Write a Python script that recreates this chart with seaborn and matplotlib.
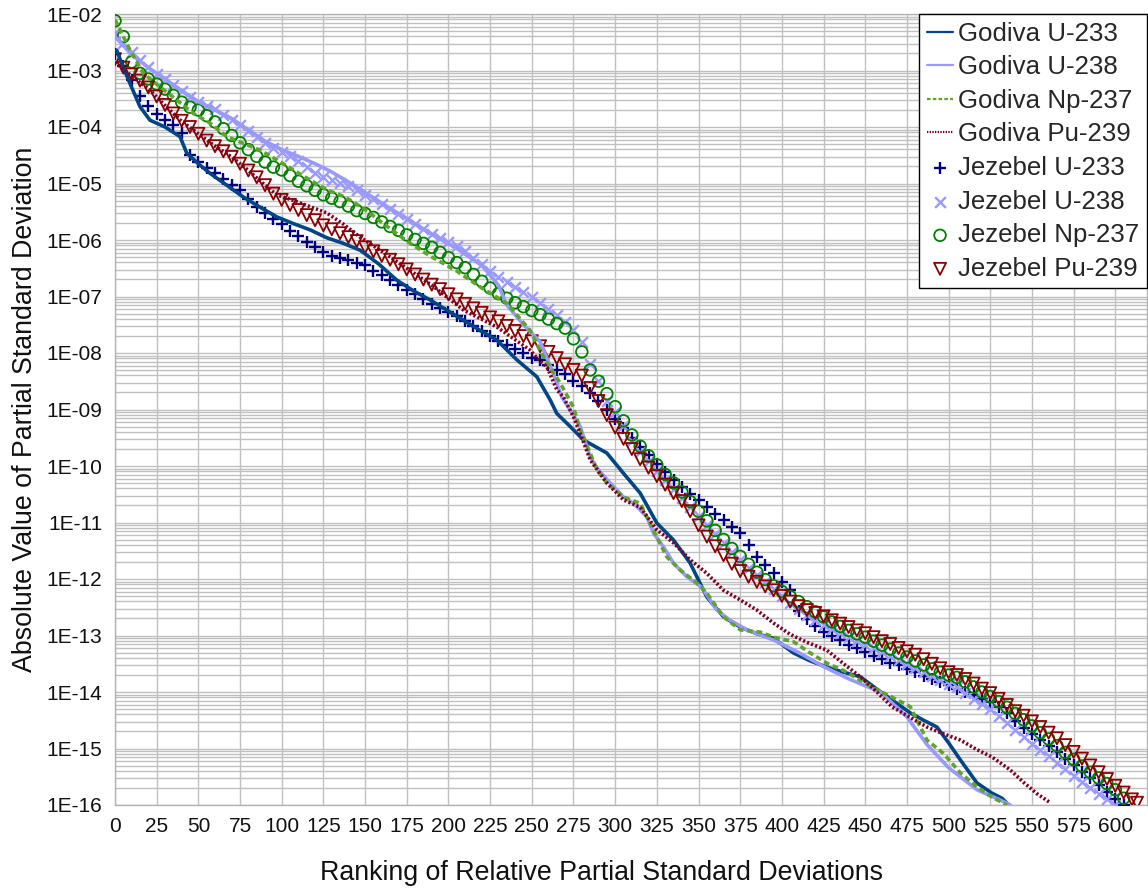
import numpy as np
import pandas as pd
import matplotlib
matplotlib.use("Agg")
import matplotlib.pyplot as plt
import seaborn as sns
from matplotlib.ticker import FixedLocator, LogLocator, FuncFormatter, NullFormatter

# ---------------- data (values as log10 exponents) ----------------
godiva_u233_rank = [1, 5, 10, 15, 21, 30, 39, 43, 50, 57, 67, 77, 87, 97, 107, 117, 127, 137, 147, 158,
                    169, 179, 189, 199, 209, 219, 229, 241, 253, 261, 265, 273, 281, 295, 305, 315, 325, 335, 345, 355,
                    365, 375, 385, 395, 407, 417, 427, 437, 447, 457, 466, 477, 485, 493, 500, 507, 517, 526, 532, 536]
godiva_u233_exp = [-2.64, -2.95, -3.30, -3.64, -3.88, -4.00, -4.17, -4.46, -4.65, -4.82,
                   -5.03, -5.24, -5.42, -5.59, -5.71, -5.82, -5.96, -6.06, -6.18, -6.42,
                   -6.71, -6.90, -7.06, -7.24, -7.42, -7.60, -7.77, -8.12, -8.42, -8.83,
                   -9.07, -9.30, -9.54, -9.77, -10.13, -10.48, -11.01, -11.31, -11.72, -12.32,
                   -12.67, -12.85, -12.97, -13.05, -13.31, -13.45, -13.56, -13.65, -13.73, -13.95,
                   -14.14, -14.37, -14.50, -14.62, -14.90, -15.20, -15.61, -15.79, -15.88, -16.00]

godiva_u238_rank = [0, 10, 20, 30, 40, 50, 60, 70, 80, 90, 100, 110, 120, 129, 137, 145,
                    160, 175, 190, 205, 220, 230, 235, 245, 255, 262, 268, 275, 279, 285, 290,
                    297, 305, 311, 319, 323, 329, 335, 343, 352, 361, 369, 379, 395, 410, 425,
                    441, 459, 470, 475, 487, 500, 517, 530, 537]
godiva_u238_exp = [-2.40, -2.72, -2.95, -3.15, -3.36, -3.55, -3.70, -3.85, -4.05, -4.25, -4.40, -4.52, -4.65,
                   -4.78, -4.92, -5.06, -5.35, -5.62, -5.90, -6.15, -6.45, -6.80, -7.15, -7.50, -7.80, -8.30,
                   -8.78, -9.10, -9.30, -9.84, -10.07, -10.30, -10.55, -10.66, -10.90, -11.19,
                   -11.43, -11.72, -11.96, -12.15, -12.55, -12.73, -12.90, -13.08, -13.30, -13.55,
                   -13.78, -14.00, -14.30, -14.44, -14.93, -15.34, -15.73, -15.90, -16.00]

godiva_np237_rank = [0, 9, 17, 27, 37, 47, 57, 67, 77, 87, 97, 107, 117, 127, 138, 149, 165, 177, 190, 205,
                     220, 235, 249, 257, 267, 275, 279, 285, 289, 295, 305, 315, 325, 331, 339, 349, 355, 365, 375, 387,
                     395, 407, 417, 427, 437, 447, 457, 466, 477, 481, 487, 497, 507, 517, 526, 535]
godiva_np237_exp = [-2.10, -2.64, -3.05, -3.29, -3.52, -3.76, -3.93, -4.17, -4.29, -4.41,
                    -4.58, -4.76, -4.94, -5.11, -5.24, -5.44, -5.80, -6.06, -6.30, -6.55,
                    -6.85, -7.12, -7.60, -8.07, -8.53, -8.96, -9.36, -9.77, -10.07, -10.30,
                    -10.55, -10.66, -11.26, -11.61, -11.84, -12.07, -12.25, -12.67, -12.90, -12.94,
                    -13.03, -13.11, -13.31, -13.49, -13.62, -13.79, -13.96, -14.09, -14.26, -14.50,
                    -14.85, -15.09, -15.43, -15.68, -15.86, -16.00]

godiva_pu239_rank = [0, 10, 20, 30, 40, 50, 60, 70, 80, 90, 97, 107, 117, 127, 137, 147, 160, 175, 190, 209,
                     229, 249, 255, 259, 265, 269, 275, 280, 285, 295, 305, 315, 325, 335, 345, 355, 365, 375, 385, 395,
                     405, 415, 427, 437, 447, 457, 466, 477, 487, 497, 507, 517, 526, 537, 545, 553, 561]
godiva_pu239_exp = [-2.85, -3.10, -3.32, -3.62, -3.90, -4.12, -4.34, -4.53, -4.77, -5.03,
                    -5.20, -5.30, -5.41, -5.52, -5.72, -5.95, -6.20, -6.50, -6.80, -7.24,
                    -7.54, -7.95, -8.15, -8.24, -8.65, -8.78, -9.13, -9.50, -9.89, -10.30,
                    -10.60, -10.73, -11.13, -11.36, -11.66, -11.90, -12.20, -12.37, -12.55, -12.78,
                    -12.98, -13.12, -13.26, -13.50, -13.73, -14.00, -14.26, -14.45, -14.62, -14.74,
                    -14.85, -15.02, -15.15, -15.38, -15.60, -15.80, -15.96]

jezebel_u233_rank = list(range(0, 606, 5))
jezebel_u233_exp = [-2.70, -2.92, -3.16, -3.45, -3.62, -3.77, -3.88, -3.97, -4.10, -4.50,
                    -4.62, -4.72, -4.82, -4.92, -5.02, -5.12, -5.27, -5.42, -5.53, -5.62,
                    -5.72, -5.84, -5.93, -6.03, -6.12, -6.21, -6.28, -6.32, -6.36, -6.40,
                    -6.45, -6.54, -6.62, -6.70, -6.79, -6.88, -6.96, -7.05, -7.13, -7.21,
                    -7.27, -7.35, -7.43, -7.52, -7.61, -7.70, -7.78, -7.86, -7.93, -8.00,
                    -8.08, -8.13, -8.22, -8.30, -8.38, -8.50, -8.58, -8.70, -8.85, -9.00,
                    -9.17, -9.33, -9.50, -9.66, -9.81, -9.96, -10.10, -10.25, -10.37, -10.49,
                    -10.61, -10.73, -10.85, -10.96, -11.08, -11.19, -11.40, -11.61, -11.75, -11.90,
                    -12.05, -12.20, -12.56, -12.70, -12.83, -12.93, -13.01, -13.08, -13.16, -13.23,
                    -13.30, -13.36, -13.42, -13.48, -13.53, -13.59, -13.65, -13.71, -13.77, -13.83,
                    -13.88, -13.94, -14.00, -14.06, -14.12, -14.18, -14.26, -14.37, -14.52, -14.63,
                    -14.74, -14.85, -14.95, -15.06, -15.18, -15.30, -15.41, -15.53, -15.65, -15.77,
                    -15.89, -16.00]

jezebel_u238_rank = list(range(0, 601, 5))
jezebel_u238_exp = [-2.34, -2.52, -2.67, -2.82, -2.94, -3.06, -3.15, -3.25, -3.36, -3.47,
                    -3.56, -3.62, -3.69, -3.78, -3.87, -3.96, -4.07, -4.18, -4.29, -4.38,
                    -4.45, -4.51, -4.60, -4.71, -4.81, -4.88, -4.94, -4.99, -5.05, -5.12,
                    -5.20, -5.28, -5.36, -5.45, -5.54, -5.63, -5.72, -5.81, -5.89, -5.96,
                    -6.04, -6.11, -6.20, -6.31, -6.43, -6.55, -6.66, -6.75, -6.84, -6.92,
                    -7.01, -7.11, -7.22, -7.33, -7.45, -7.60, -7.80, -8.20, -8.50, -8.85,
                    -9.05, -9.30, -9.55, -9.75, -9.92, -10.08, -10.25, -10.40, -10.56, -10.72,
                    -10.88, -11.04, -11.20, -11.36, -11.52, -11.66, -11.80, -11.93, -12.06, -12.18,
                    -12.30, -12.42, -12.53, -12.63, -12.72, -12.81, -12.89, -12.96, -13.03, -13.10,
                    -13.16, -13.22, -13.29, -13.36, -13.43, -13.50, -13.57, -13.64, -13.71, -13.78,
                    -13.85, -13.91, -14.01, -14.12, -14.22, -14.30, -14.42, -14.55, -14.68, -14.80,
                    -14.92, -15.03, -15.14, -15.25, -15.37, -15.49, -15.60, -15.70, -15.80, -15.90,
                    -16.00]

jezebel_np237_rank = list(range(0, 606, 5))
jezebel_np237_exp = [-2.12, -2.40, -2.85, -3.05, -3.15, -3.24, -3.33, -3.44, -3.56, -3.65,
                     -3.70, -3.80, -3.91, -4.03, -4.15, -4.28, -4.40, -4.52, -4.62, -4.71,
                     -4.76, -4.86, -4.96, -5.04, -5.12, -5.20, -5.26, -5.32, -5.40, -5.48,
                     -5.53, -5.60, -5.68, -5.76, -5.83, -5.91, -5.99, -6.06, -6.13, -6.22,
                     -6.31, -6.40, -6.49, -6.61, -6.73, -6.85, -6.95, -7.03, -7.11, -7.18,
                     -7.25, -7.32, -7.40, -7.48, -7.56, -7.75, -7.98, -8.30, -8.50, -8.72,
                     -8.95, -9.20, -9.45, -9.65, -9.82, -9.98, -10.15, -10.30, -10.46, -10.63,
                     -10.80, -10.97, -11.14, -11.30, -11.46, -11.60, -11.74, -11.88, -12.01, -12.12,
                     -12.22, -12.31, -12.40, -12.49, -12.58, -12.67, -12.76, -12.84, -12.91, -12.97,
                     -13.03, -13.10, -13.17, -13.24, -13.31, -13.38, -13.45, -13.52, -13.59, -13.65,
                     -13.70, -13.74, -13.82, -13.91, -14.00, -14.08, -14.17, -14.27, -14.38, -14.49,
                     -14.60, -14.72, -14.83, -14.95, -15.07, -15.19, -15.31, -15.42, -15.52, -15.62,
                     -15.73, -15.88]

jezebel_pu239_rank = list(range(0, 611, 5)) + [613]
jezebel_pu239_exp = [-2.80, -2.95, -3.07, -3.18, -3.30, -3.46, -3.61, -3.76, -3.89, -4.00,
                     -4.12, -4.24, -4.34, -4.43, -4.53, -4.65, -4.77, -4.89, -5.03, -5.18,
                     -5.29, -5.38, -5.47, -5.56, -5.65, -5.74, -5.81, -5.88, -5.95, -6.02,
                     -6.13, -6.20, -6.28, -6.35, -6.43, -6.52, -6.61, -6.70, -6.79, -6.87,
                     -6.96, -7.05, -7.13, -7.21, -7.29, -7.37, -7.44, -7.52, -7.61, -7.70,
                     -7.79, -7.88, -7.98, -8.09, -8.20, -8.30, -8.40, -8.62, -8.85, -9.10,
                     -9.32, -9.52, -9.70, -9.88, -10.03, -10.18, -10.33, -10.48, -10.62, -10.80,
                     -11.05, -11.25, -11.42, -11.58, -11.73, -11.86, -11.96, -12.05, -12.13, -12.20,
                     -12.30, -12.40, -12.48, -12.55, -12.60, -12.66, -12.73, -12.79, -12.85, -12.91,
                     -12.96, -13.03, -13.10, -13.15, -13.22, -13.28, -13.34, -13.42, -13.50, -13.58,
                     -13.65, -13.70, -13.77, -13.85, -13.94, -14.02, -14.12, -14.23, -14.34, -14.42,
                     -14.52, -14.62, -14.72, -14.82, -14.94, -15.06, -15.18, -15.30, -15.42, -15.54,
                     -15.66, -15.78, -15.90, -15.96]

labels = ["Godiva U-233", "Godiva U-238", "Godiva Np-237", "Godiva Pu-239",
          "Jezebel U-233", "Jezebel U-238", "Jezebel Np-237", "Jezebel Pu-239"]
y_tick_exponents = list(range(-16, -1))
x_ticks = list(range(0, 601, 25))

# ---------------- styling ----------------
sns.set_style("white")
plt.rcParams['font.family'] = ['Liberation Sans', 'DejaVu Sans']

W, H = 1148, 890
fig = plt.figure(figsize=(W / 100, H / 100), dpi=100)
ax = fig.add_axes([115 / W, 1 - 805 / H, (1147 - 115) / W, (805 - 14) / H])

grid_c = "#c0c0c0"


def vals(e):
    return 10.0 ** np.asarray(e, dtype=float)


handles = {}

# Jezebel series (markers)
jez = [
    ("Jezebel U-233", jezebel_u233_rank, jezebel_u233_exp, dict(marker="+", color="#000080", s=85, linewidth=1.7)),
    ("Jezebel U-238", jezebel_u238_rank, jezebel_u238_exp, dict(marker="x", color="#9999ff", s=60, linewidth=1.7)),
    ("Jezebel Np-237", jezebel_np237_rank, jezebel_np237_exp,
     dict(marker="o", facecolor="none", edgecolor="#008000", s=70, linewidth=1.3)),
    ("Jezebel Pu-239", jezebel_pu239_rank, jezebel_pu239_exp,
     dict(marker="v", facecolor="none", edgecolor="#8b0000", s=75, linewidth=1.3)),
]
for name, r, e, kw in jez:
    sns.scatterplot(x=r, y=vals(e), ax=ax, legend=False, zorder=3, **kw)
    handles[name] = ax.collections[-1]

# Godiva series (lines)
god = [
    ("Godiva U-233", godiva_u233_rank, godiva_u233_exp, dict(color="#004586", linewidth=2.6, linestyle="-")),
    ("Godiva U-238", godiva_u238_rank, godiva_u238_exp, dict(color="#9999ff", linewidth=2.6, linestyle="-")),
    ("Godiva Np-237", godiva_np237_rank, godiva_np237_exp,
     dict(color="#5ea52a", linewidth=2.6, linestyle=(0, (1.6, 1.0)))),
    ("Godiva Pu-239", godiva_pu239_rank, godiva_pu239_exp,
     dict(color="#7e0021", linewidth=2.6, linestyle=(0, (0.6, 0.6)))),
]
for name, r, e, kw in god:
    sns.lineplot(x=r, y=vals(e), ax=ax, legend=False, zorder=4, **kw)
    handles[name] = ax.lines[-1]

ax.set_yscale("log")
ax.set_ylim(1e-16, 1e-2)
ax.set_xlim(0, 619)

ax.yaxis.set_major_locator(FixedLocator([10.0 ** k for k in y_tick_exponents]))
ax.yaxis.set_major_formatter(FuncFormatter(lambda v, p: "1E-%02d" % int(round(-np.log10(v)))))
ax.yaxis.set_minor_locator(LogLocator(base=10, subs=np.arange(2, 10), numticks=200))
ax.yaxis.set_minor_formatter(NullFormatter())
ax.xaxis.set_major_locator(FixedLocator(x_ticks))

ax.grid(True, which="major", axis="both", color=grid_c, linewidth=1.0, zorder=0)
ax.grid(True, which="minor", axis="y", color=grid_c, linewidth=1.0, zorder=0)
ax.set_axisbelow(True)

for sp in ax.spines.values():
    sp.set_color("#b3b3b3")
    sp.set_linewidth(1.0)

ax.tick_params(axis="both", which="major", direction="out", length=5, width=1, color="#b3b3b3",
               labelsize=15, labelcolor="#111111", pad=4)
ax.tick_params(axis="y", which="minor", length=0)

ax.set_xlabel("Ranking of Relative Partial Standard Deviations", fontsize=19.3, color="#111111")
ax.xaxis.set_label_coords((601 - 115) / (1147 - 115), -(873 - 805) / (805 - 14), transform=ax.transAxes)
ax.xaxis.label.set_va("center")
ax.set_ylabel("Absolute Value of Partial Standard Deviation", fontsize=19.3, labelpad=6, color="#111111")

leg = ax.legend([handles[n] for n in labels], labels, loc="upper right", bbox_to_anchor=(1.0, 1.0),
                borderaxespad=0, frameon=True, fancybox=False, edgecolor="black", framealpha=1,
                fontsize=18.6, handlelength=1.0, handletextpad=0.2, labelspacing=0.37, borderpad=0.3,
                scatterpoints=1)
leg.get_frame().set_linewidth(1.0)
leg.set_zorder(10)
for ln in leg.get_lines():
    ln.set_linewidth(1.6)

fig.savefig("out.png", dpi=100)
